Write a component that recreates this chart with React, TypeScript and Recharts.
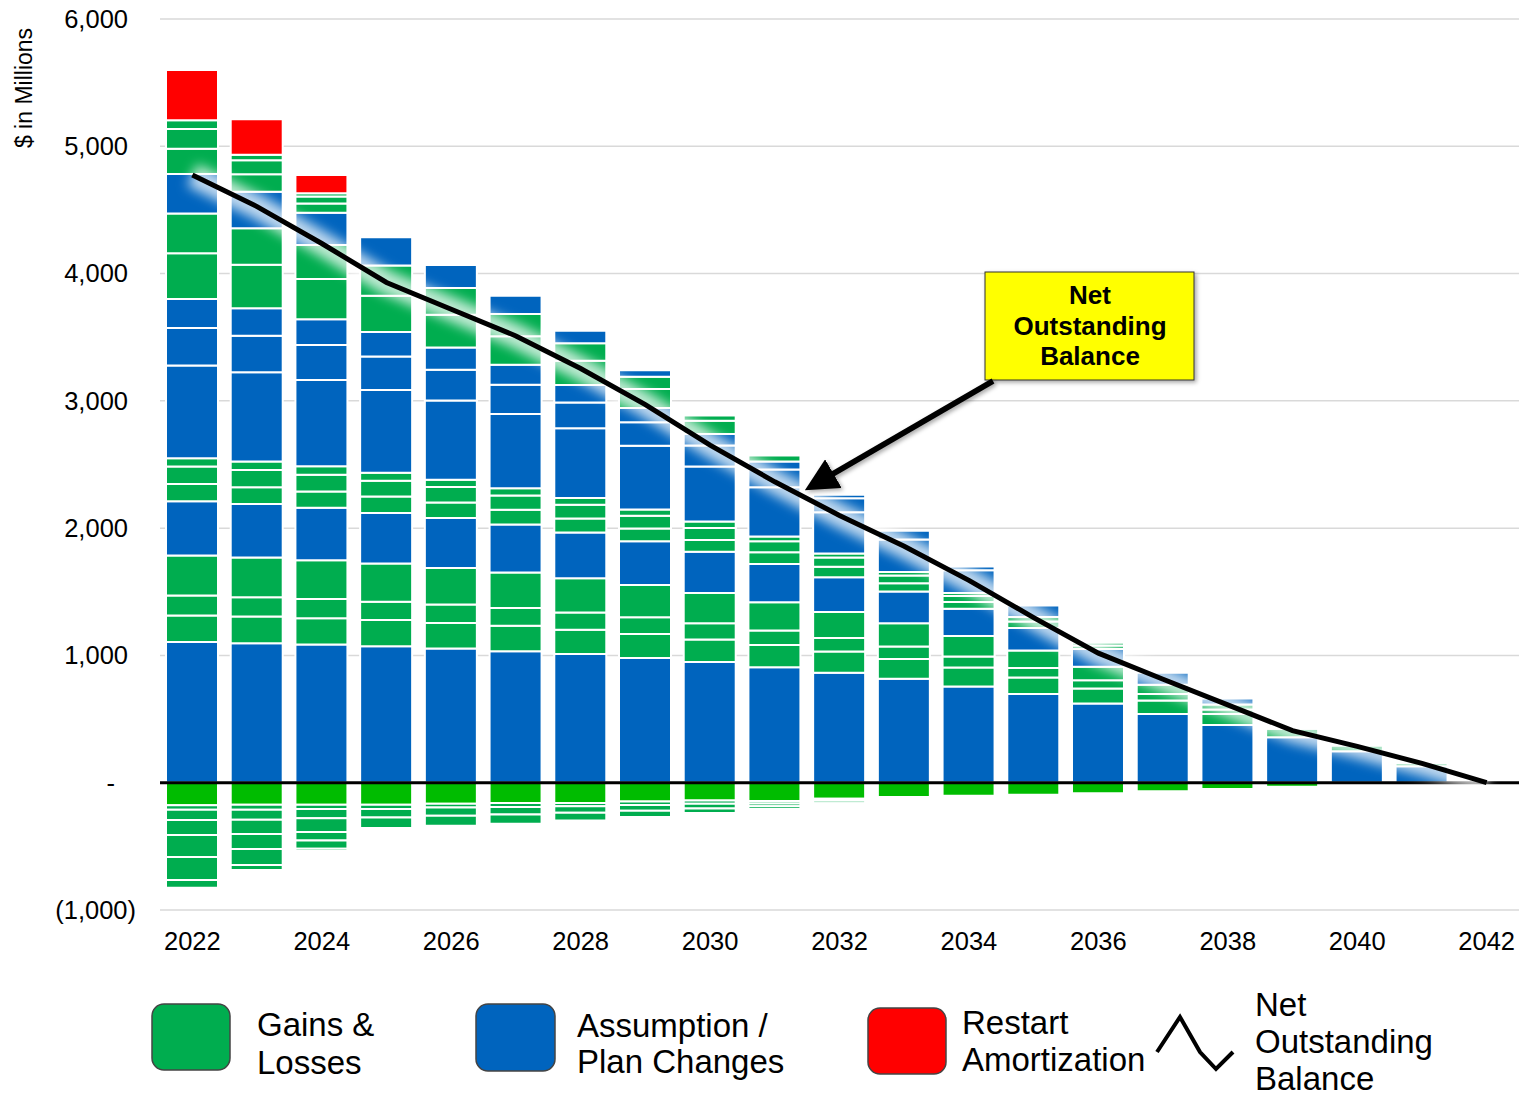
import React from 'react';
import { ComposedChart, Bar, Line, XAxis, YAxis, CartesianGrid, ReferenceLine } from 'recharts';

// ---- categories ----
const years = ['2022','2023','2024','2025','2026','2027','2028','2029','2030','2031','2032','2033','2034','2035','2036','2037','2038','2039','2040','2041','2042'];

// ---- positive layers (bottom to top) ----
const assumptionA = [1105, 1096, 1085, 1072, 1054, 1033, 1012, 980, 949, 907, 864, 817, 756, 697, 623, 540, 454, 357, 247, 130, 0];
const gainsA = [209, 209, 208, 206, 201, 200, 190, 188, 176, 175, 166, 154, 150, 130, 118, 106, 86, 67, 44, 22, 0];
const gainsB = [157, 152, 150, 143, 145, 139, 135, 132, 128, 113, 106, 99, 86, 75, 64, 51, 35, 16, 0, 0, 0];
const gainsC = [314, 312, 304, 301, 287, 279, 269, 253, 238, 223, 205, 183, 160, 136, 106, 73, 39, 0, 0, 0, 0];
const assumptionB = [427, 421, 414, 397, 393, 377, 359, 344, 323, 300, 273, 249, 215, 178, 140, 95, 48, 0, 0, 0, 0];
const gainsD = [134, 131, 126, 129, 121, 116, 111, 100, 93, 92, 82, 66, 53, 51, 27, 15, 0, 0, 0, 0, 0];
const gainsE = [138, 136, 133, 125, 122, 112, 107, 101, 94, 87, 73, 59, 47, 35, 22, 0, 0, 0, 0, 0, 0];
const gainsF = [66, 66, 66, 63, 57, 57, 54, 48, 52, 37, 32, 29, 24, 0, 0, 0, 0, 0, 0, 0, 0];
const assumptionC = [727, 701, 677, 650, 622, 583, 547, 502, 432, 387, 323, 254, 179, 90, 0, 0, 0, 0, 0, 0, 0];
const assumptionD = [296, 288, 275, 262, 243, 230, 204, 183, 165, 139, 110, 69, 29, 0, 0, 0, 0, 0, 0, 0, 0];
const assumptionE = [228, 215, 204, 192, 174, 158, 136, 113, 89, 63, 28, 0, 0, 0, 0, 0, 0, 0, 0, 0, 0];
const gainsG = [359, 343, 315, 286, 258, 223, 192, 150, 104, 48, 0, 0, 0, 0, 0, 0, 0, 0, 0, 0, 0];
const gainsH = [311, 287, 267, 238, 209, 175, 136, 96, 41, 0, 0, 0, 0, 0, 0, 0, 0, 0, 0, 0, 0];
const assumptionF = [311, 286, 254, 222, 182, 143, 98, 51, 0, 0, 0, 0, 0, 0, 0, 0, 0, 0, 0, 0, 0];
const gainsI = [199, 138, 73, 0, 0, 0, 0, 0, 0, 0, 0, 0, 0, 0, 0, 0, 0, 0, 0, 0, 0];
const gainsJ = [155, 110, 55, 0, 0, 0, 0, 0, 0, 0, 0, 0, 0, 0, 0, 0, 0, 0, 0, 0, 0];
const gainsK = [69, 43, 26, 0, 0, 0, 0, 0, 0, 0, 0, 0, 0, 0, 0, 0, 0, 0, 0, 0, 0];
const restart = [395, 278, 142, 0, 0, 0, 0, 0, 0, 0, 0, 0, 0, 0, 0, 0, 0, 0, 0, 0, 0];

// ---- negative layers (from zero downward) ----
const lossA = [-177, -173, -173, -173, -166, -160, -159, -148, -140, -144, -126, -113, -103, -95, -82, -67, -50, -31, -5, 0, 0];
const lossB = [-35, -39, -34, -33, -29, -30, -26, -27, -25, -20, -15, 0, 0, 0, 0, 0, 0, 0, 0, 0, 0];
const lossC = [-81, -79, -73, -67, -64, -60, -51, -45, -37, -21, -20, 0, 0, 0, 0, 0, 0, 0, 0, 0, 0];
const lossD = [-118, -111, -107, -83, -79, -72, -60, -50, -36, -22, -15, 0, 0, 0, 0, 0, 0, 0, 0, 0, 0];
const lossE = [-172, -119, -67, 0, 0, 0, 0, 0, 0, 0, 0, 0, 0, 0, 0, 0, 0, 0, 0, 0, 0];
const lossF = [-181, -125, -64, 0, 0, 0, 0, 0, 0, 0, 0, 0, 0, 0, 0, 0, 0, 0, 0, 0, 0];
const lossG = [-61, -40, -18, 0, 0, 0, 0, 0, 0, 0, 0, 0, 0, 0, 0, 0, 0, 0, 0, 0, 0];

// ---- net outstanding balance ----
const netBalance = [4775, 4526, 4236, 3930, 3720, 3510, 3254, 2971, 2652, 2364, 2100, 1858, 1590, 1297, 1018, 813, 612, 409, 286, 152, 0];

// ---- y ticks ----
const yTicks = [-1000, 0, 1000, 2000, 3000, 4000, 5000, 6000];

const BLUE = '#0064BE';
const GREEN = '#00AD4F';
const BRIGHT = '#00BC00';
const RED = '#FF0000';

const layers: { key: string; values: number[]; color: string }[] = [
  { key: 'assumptionA', values: assumptionA, color: BLUE },
  { key: 'gainsA', values: gainsA, color: GREEN },
  { key: 'gainsB', values: gainsB, color: GREEN },
  { key: 'gainsC', values: gainsC, color: GREEN },
  { key: 'assumptionB', values: assumptionB, color: BLUE },
  { key: 'gainsD', values: gainsD, color: GREEN },
  { key: 'gainsE', values: gainsE, color: GREEN },
  { key: 'gainsF', values: gainsF, color: GREEN },
  { key: 'assumptionC', values: assumptionC, color: BLUE },
  { key: 'assumptionD', values: assumptionD, color: BLUE },
  { key: 'assumptionE', values: assumptionE, color: BLUE },
  { key: 'gainsG', values: gainsG, color: GREEN },
  { key: 'gainsH', values: gainsH, color: GREEN },
  { key: 'assumptionF', values: assumptionF, color: BLUE },
  { key: 'gainsI', values: gainsI, color: GREEN },
  { key: 'gainsJ', values: gainsJ, color: GREEN },
  { key: 'gainsK', values: gainsK, color: GREEN },
  { key: 'restart', values: restart, color: RED },
  { key: 'lossA', values: lossA, color: BRIGHT },
  { key: 'lossB', values: lossB, color: GREEN },
  { key: 'lossC', values: lossC, color: GREEN },
  { key: 'lossD', values: lossD, color: GREEN },
  { key: 'lossE', values: lossE, color: GREEN },
  { key: 'lossF', values: lossF, color: GREEN },
  { key: 'lossG', values: lossG, color: GREEN },
];

const data = years.map((year, i) => {
  const row: Record<string, number | string> = { year, net: netBalance[i] };
  layers.forEach((l) => {
    row[l.key] = l.values[i];
  });
  return row;
});

const FONT = '"Liberation Sans", Arial, sans-serif';

function fmt(v: number) {
  return Math.abs(v).toLocaleString('en-US');
}

function YTick(props: any) {
  const { y, payload } = props;
  const v = payload.value as number;
  let text: string;
  let xEnd: number;
  if (v === 0) {
    text = '-';
    xEnd = 115;
  } else if (v < 0) {
    text = `(${fmt(v)})`;
    xEnd = 136;
  } else {
    text = fmt(v);
    xEnd = 128;
  }
  return (
    <text x={xEnd} y={y} dy="0.35em" textAnchor="end" fontSize={25.5} fill="#000" fontFamily={FONT}>
      {text}
    </text>
  );
}

function Overlay() {
  const legendFont = 33;
  return (
    <svg
      width={1522}
      height={1098}
      style={{ position: 'absolute', left: 0, top: 0, pointerEvents: 'none' }}
      fontFamily={FONT}
    >
      <defs>
        <filter id="shadow" x="-20%" y="-20%" width="140%" height="140%">
          <feDropShadow dx="2" dy="2" stdDeviation="2" floodColor="#000" floodOpacity="0.35" />
        </filter>
        <marker id="arrowHead" markerWidth="6" markerHeight="6" refX="4.5" refY="3" orient="auto" markerUnits="strokeWidth">
          <path d="M0,0 L6,3 L0,6 Z" fill="#000" />
        </marker>
      </defs>

      {/* y axis title */}
      <text transform="translate(32,88) rotate(-90)" textAnchor="middle" fontSize={23} fill="#000">
        $ in Millions
      </text>

      {/* annotation box */}
      <rect x={985} y={272} width={209} height={108} fill="#FFFF00" stroke="#333" strokeWidth={1} filter="url(#shadow)" />
      <text x={1090} y={304} textAnchor="middle" fontSize={26} fontWeight="bold" fill="#000">Net</text>
      <text x={1090} y={335} textAnchor="middle" fontSize={26} fontWeight="bold" fill="#000">Outstanding</text>
      <text x={1090} y={365} textAnchor="middle" fontSize={26} fontWeight="bold" fill="#000">Balance</text>

      {/* arrow */}
      <line x1={993} y1={381} x2={812} y2={486} stroke="#000" strokeWidth={5.5} markerEnd="url(#arrowHead)" filter="url(#shadow)" />

      {/* legend */}
      <rect x={152} y={1004} width={78} height={66} rx={12} fill={GREEN} stroke="#444" strokeWidth={1.5} />
      <text x={257} y={1036} fontSize={legendFont} fill="#000">Gains &amp;</text>
      <text x={257} y={1074} fontSize={legendFont} fill="#000">Losses</text>

      <rect x={476} y={1004} width={79} height={67} rx={12} fill={BLUE} stroke="#444" strokeWidth={1.5} />
      <text x={577} y={1037} fontSize={legendFont} fill="#000">Assumption /</text>
      <text x={577} y={1073} fontSize={legendFont} fill="#000">Plan Changes</text>

      <rect x={868} y={1008} width={78} height={66} rx={12} fill={RED} stroke="#444" strokeWidth={1.5} />
      <text x={962} y={1034} fontSize={legendFont} fill="#000">Restart</text>
      <text x={962} y={1071} fontSize={legendFont} fill="#000">Amortization</text>

      <polyline points="1157,1052 1180,1017 1200,1052 1216,1069 1233,1052" fill="none" stroke="#000" strokeWidth={4} />
      <text x={1255} y={1016} fontSize={legendFont} fill="#000">Net</text>
      <text x={1255} y={1053} fontSize={legendFont} fill="#000">Outstanding</text>
      <text x={1255} y={1090} fontSize={legendFont} fill="#000">Balance</text>
    </svg>
  );
}

export default function App() {
  return (
    <div
      style={{
        position: 'absolute',
        left: 0,
        top: 0,
        width: 1522,
        height: 1098,
        overflow: 'hidden',
        background: '#fff',
        fontFamily: FONT,
      }}
    >
      <ComposedChart
        width={1522}
        height={960}
        data={data}
        stackOffset="sign"
        barSize={52}
        margin={{ top: 19, right: 3, bottom: 0, left: 0 }}
      >
        <defs>
          <filter id="glow" x="-10%" y="-10%" width="120%" height="120%">
            <feGaussianBlur stdDeviation="6" />
          </filter>
        </defs>
        <CartesianGrid vertical={false} stroke="#D9D9D9" strokeWidth={1.5} />
        <XAxis
          dataKey="year"
          interval={1}
          tickLine={false}
          axisLine={false}
          tickSize={0}
          tickMargin={22}
          height={50}
          tick={{ fontSize: 25.5, fill: '#000', fontFamily: FONT }}
        />
        <YAxis
          width={160}
          domain={[-1000, 6000]}
          ticks={yTicks}
          tickLine={false}
          axisLine={false}
          tick={<YTick />}
          allowDataOverflow
        />
        {layers.map((l) => (
          <Bar
            key={l.key}
            dataKey={l.key}
            stackId="a"
            fill={l.color}
            stroke="#fff"
            strokeWidth={2}
            isAnimationActive={false}
          />
        ))}
        <ReferenceLine y={0} stroke="#000" strokeWidth={3} />
        <Line
          dataKey="net"
          type="linear"
          stroke="#fff"
          strokeWidth={24}
          strokeOpacity={0.75}
          filter="url(#glow)"
          dot={false}
          activeDot={false}
          legendType="none"
          isAnimationActive={false}
        />
        <Line
          dataKey="net"
          type="linear"
          stroke="#000"
          strokeWidth={5}
          dot={false}
          activeDot={false}
          legendType="none"
          isAnimationActive={false}
        />
      </ComposedChart>
      <Overlay />
    </div>
  );
}
